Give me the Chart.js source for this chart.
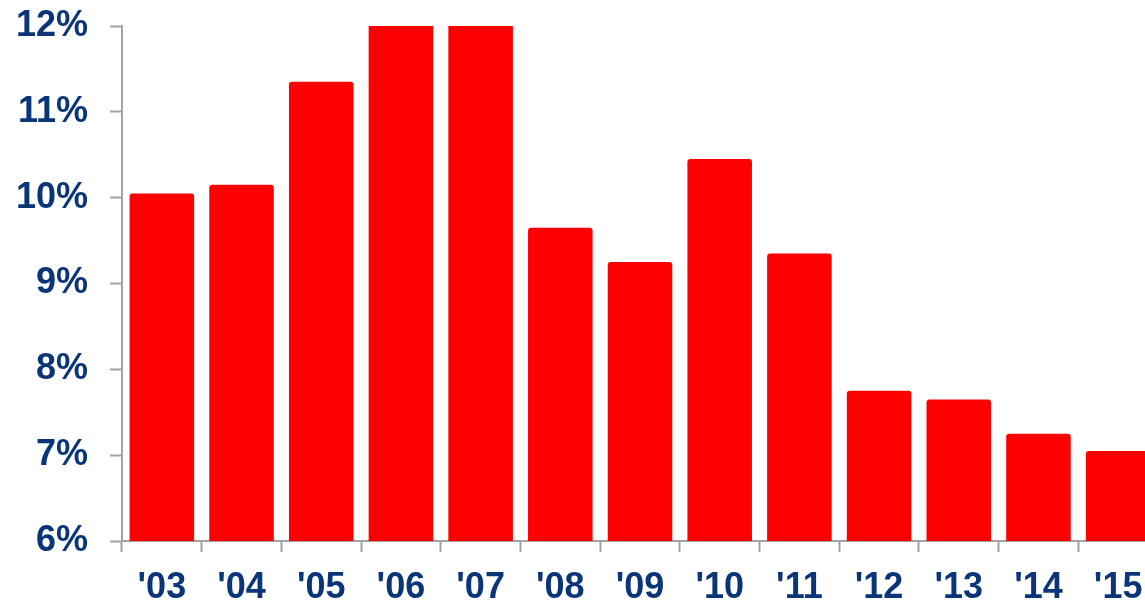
<!DOCTYPE html>
<html>
<head>
<meta charset="utf-8">
<script src="https://cdn.jsdelivr.net/npm/chart.js@4/dist/chart.umd.min.js"></script>
<style>
  html, body { margin: 0; padding: 0; background: #ffffff; overflow: hidden; width: 1145px; height: 602px; }
  #wrap { width: 1160px; height: 602px; }
</style>
</head>
<body>
<div id="wrap"><canvas id="c" width="1160" height="602"></canvas></div>
<script>
const categories = ["'03", "'04", "'05", "'06", "'07", "'08", "'09", "'10", "'11", "'12", "'13", "'14", "'15"];
const rateValues = [10.05, 10.15, 11.35, 12.5, 12.5, 9.65, 9.25, 10.45, 9.35, 7.75, 7.65, 7.25, 7.05];
const yTickValues = [6, 7, 8, 9, 10, 11, 12];

const textColor = '#0b3579';
const axisColor = '#a3a3a3';
const fontFamily = "'Liberation Sans', Arial, sans-serif";

new Chart(document.getElementById('c'), {
  type: 'bar',
  data: {
    labels: categories,
    datasets: [{
      data: rateValues,
      backgroundColor: '#ff0000',
      borderWidth: 0,
      borderRadius: 3,
      barPercentage: 0.9,
      categoryPercentage: 0.9
    }]
  },
  options: {
    responsive: false,
    animation: false,
    layout: { padding: { top: 26, right: 2, left: 0, bottom: 0 } },
    plugins: { legend: { display: false }, tooltip: { enabled: false } },
    scales: {
      x: {
        offset: true,
        grid: {
          display: true,
          offset: true,
          drawOnChartArea: false,
          drawTicks: true,
          tickLength: 11,
          tickWidth: 2,
          color: axisColor
        },
        border: { display: true, color: axisColor, width: 2 },
        ticks: {
          color: textColor,
          font: { family: fontFamily, size: 36, weight: 'bold' },
          padding: 14,
          maxRotation: 0,
          autoSkip: false
        },
        afterFit: (s) => { s.height = 61; s.paddingLeft = 0; s.paddingRight = 0; }
      },
      y: {
        min: 6,
        max: 12,
        afterBuildTicks: (s) => { s.ticks = yTickValues.map(v => ({ value: v })); },
        grid: {
          display: true,
          drawOnChartArea: false,
          drawTicks: true,
          tickLength: 12,
          tickWidth: 2,
          color: axisColor
        },
        border: { display: true, color: axisColor, width: 2 },
        ticks: {
          color: textColor,
          font: { family: fontFamily, size: 36, weight: 'bold' },
          padding: 22,
          callback: (v) => v + '%'
        },
        afterFit: (s) => { s.width = 122; s.paddingTop = 0; s.paddingBottom = 0; }
      }
    }
  }
});
</script>
</body>
</html>
